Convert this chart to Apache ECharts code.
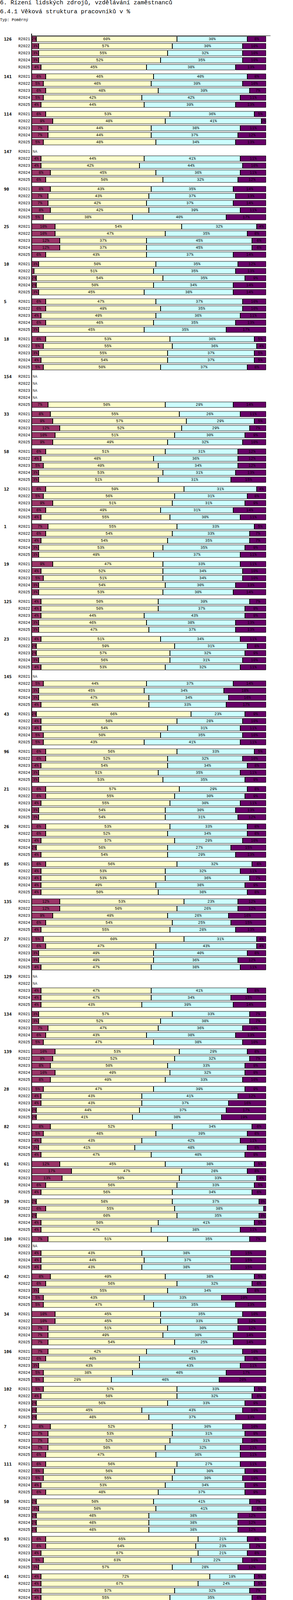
<!DOCTYPE html>
<html>
<head>
<meta charset="utf-8">
<script src="https://cdn.jsdelivr.net/npm/echarts@6/dist/echarts.min.js"></script>
<style>
html,body{margin:0;padding:0;background:#fff}
#chart{width:750px;height:7886px}
</style>
</head>
<body>
<div id="chart"></div>
<script>
// skupiny (pořadí shora dolů) a období
const groups = [126,141,114,147,90,25,10,5,18,154,33,58,12,1,19,125,23,145,43,96,21,26,85,135,27,129,134,139,28,82,
  61,39,100,42,34,106,102,7,111,50,93,41,153,115,122,2,130,51,6,140,101,86,52,136,131,74,3,138,113,132,
  8,14,16,152,15,53,89,56,13,146,9,118,60,112,67,144,121,88,75];
const periods = ['R2021','R2022','R2023','R2024','R2025'];
const seriesNames = [
  'Počet zaměstnanců ve věku do 30 let',
  'Počet zaměstnanců ve věku 31 - 50 let',
  'Počet zaměstnanců ve věku 51-60 let',
  'Počet zaměstnanců ve věku 61 let a výše'
];
const n = null; // NA

// hodnoty v %, jeden řádek = 5 skupin, každá skupina R2021..R2025
const age30 = [
  [2,3,3,3,4],[6,5,6,5,4],[6,9,7,7,5],[n,4,4,8,6],[8,7,7,8,5],
  [10,10,12,12,6],[3,1,2,2,3],[6,6,4,6,3],[6,5,3,4,5],[n,n,n,n,7],
  [8,9,12,10,9],[6,4,5,3,3],[6,5,9,6,4],[7,6,4,3,3],[9,4,5,3,3],
  [4,4,4,3,3],[4,2,2,3,4],[n,5,3,3,4],[2,4,4,5,5],[6,6,4,3,3],
  [6,6,4,3,3],[6,6,4,2,4],[6,4,4,4,4],[12,12,9,6,4],[5,6,3,3,4],
  [n,n,4,4,4],[3,3,7,6,5],[10,9,8,10,8],[5,4,4,2,2],[8,5,4,3,4],
  [12,17,13,6,4],[2,6,2,4,4],[7,n,4,4,4],[8,6,3,5,5],[10,10,7,7,7],
  [7,6,3,5,5],[5,4,2,2,2],[8,7,7,7,6],[6,5,5,4,6],[2,3,2,2,2],
  [6,6,4,5,3],[4,4,4,4,4],[n,n,3,3,3],[4,3,2,1,2],[8,9,6,5,7],
  [12,10,9,8,6],[8,8,8,8,8],[9,11,12,11,9],[6,6,5,4,4],[5,6,5,6,7],
  [4,5,3,4,2],[9,10,5,2,2],[n,n,n,2,2],[4,5,8,4,2],[8,7,7,6,8],
  [11,9,9,7,6],[8,9,8,5,6],[4,2,3,5,6],[5,6,5,4,5],[7,6,6,4,4],
  [4,4,4,5,4],[8,9,9,7,6],[4,3,5,7,6],[n,n,6,4,4],[4,2,3,4,6],
  [8,5,4,5,6],[4,4,5,4,3],[3,4,4,4,4],[6,7,4,6,5],[n,4,4,4,5],
  [8,6,8,6,5],[6,8,6,6,8],[8,8,11,13,16],[9,3,7,5,5],[2,2,n,n,7],
  [3,4,3,5,5],[9,9,7,6,1],[9,9,7,3,1],[1,1,1,1,0]
];
const age31_50 = [
  [60,57,55,52,45],[46,46,48,42,44],[53,48,44,44,48],[n,44,42,45,50],[43,43,42,42,38],
  [54,47,37,37,43],[50,51,54,50,45],[47,49,49,46,45],[53,55,55,54,50],[n,n,n,n,50],
  [55,57,52,51,49],[51,48,49,53,51],[59,56,51,49,55],[55,54,54,53,49],[47,52,51,54,53],
  [50,50,44,46,47],[51,59,57,56,53],[n,44,45,47,46],[66,58,54,50,43],[56,52,54,51,53],
  [57,55,55,54,54],[53,52,57,56,54],[56,53,53,49,50],[53,50,49,54,55],[60,47,49,49,47],
  [n,n,47,47,43],[57,52,47,43,47],[53,52,50,49,49],[47,43,43,44,41],[52,48,43,41,47],
  [45,47,50,56,56],[58,55,60,50,47],[51,n,43,44,43],[49,56,55,43,47],[45,45,51,49,54],
  [42,40,43,38,29],[57,58,56,45,48],[52,53,52,50,47],[56,56,55,53,48],[50,50,48,48,48],
  [65,64,67,63,57],[72,67,57,55,56],[n,n,45,45,44],[51,52,52,52,53],[50,54,51,50,60],
  [49,51,51,51,49],[44,44,43,44,44],[46,46,44,44,46],[54,51,50,49,46],[61,58,58,51,49],
  [59,54,55,55,54],[52,52,53,56,56],[n,n,n,55,47],[58,56,47,49,50],[55,48,54,52,44],
  [55,56,53,54,53],[51,47,45,45,42],[32,30,32,31,31],[51,49,48,46,42],[57,56,54,55,54],
  [50,52,51,50,49],[51,50,49,47,46],[48,49,45,44,43],[n,n,52,52,52],[58,59,55,54,52],
  [44,50,49,46,42],[59,56,56,55,58],[53,48,46,39,45],[51,56,56,40,43],[n,50,50,47,45],
  [50,48,46,44,40],[41,44,39,37,40],[52,52,67,53,54],[53,59,57,56,56],[55,48,n,n,45],
  [57,56,59,53,51],[59,53,56,48,51],[49,44,43,43,38],[51,47,51,42,41]
];
const age51_60 = [
  [30,30,32,35,38],[40,39,39,42,39],[36,41,38,37,34],[n,41,44,36,32],[35,37,37,39,40],
  [32,35,45,45,37],[35,35,35,34,38],[37,35,36,35,35],[36,36,37,37,37],[n,n,n,n,29],
  [26,29,29,30,32],[31,36,34,31,31],[31,31,31,31,30],[33,33,35,35,37],[33,34,34,30,30],
  [39,37,43,38,37],[34,31,32,31,32],[n,37,34,34,33],[23,28,31,35,41],[33,32,34,35,35],
  [29,30,30,30,31],[33,34,29,27,29],[32,32,36,38,38],[23,26,26,25,28],[31,43,40,36,38],
  [n,n,41,34,39],[33,38,36,38,38],[29,32,33,32,33],[39,41,37,37,38],[34,39,42,48,40],
  [38,28,33,33,34],[37,38,35,41,38],[35,n,38,37,38],[38,32,34,33,35],[35,33,30,30,25],
  [41,45,43,40,46],[33,32,33,43,37],[30,31,31,32,36],[27,30,30,34,37],[41,41,38,38,38],
  [21,23,21,22,28],[19,24,32,35,32],[n,n,35,35,37],[36,35,34,33,32],[27,23,25,25,14],
  [32,31,32,31,32],[33,32,33,31,31],[26,29,29,33,35],[33,35,36,38,38],[26,29,30,36,34],
  [31,32,32,29,29],[37,33,36,34,31],[n,n,n,28,35],[28,29,37,34,34],[28,31,27,30,34],
  [28,29,32,33,33],[35,36,39,39,39],[44,46,38,33,35],[36,40,42,40,40],[31,33,35,34,35],
  [38,35,34,34,34],[33,33,33,37,38],[39,38,37,38,38],[n,n,31,33,30],[28,30,30,32,34],
  [39,37,36,38,36],[33,35,35,36,34],[38,42,41,46,41],[35,28,31,38,38],[n,36,35,36,33],
  [35,39,37,41,44],[42,39,42,39,33],[27,27,15,23,21],[26,31,27,27,28],[36,40,n,n,43],
  [35,37,35,37,37],[27,33,33,41,44],[35,39,37,36,44],[43,46,44,50,51]
];
const age61 = [
  [8,10,10,10,13],[8,10,7,11,13],[5,2,11,12,13],[n,11,10,11,12],[14,13,14,11,17],
  [4,8,6,6,14],[12,13,9,14,14],[10,10,11,13,17],[5,4,5,5,8],[n,n,n,n,14],
  [11,5,7,9,10],[12,12,12,13,15],[4,8,9,14,11],[5,7,7,9,11],[11,10,10,13,14],
  [7,9,9,13,13],[11,8,9,10,11],[n,14,18,16,17],[9,10,11,10,11],[5,10,8,11,9],
  [8,9,11,13,12],[8,8,10,15,13],[6,11,7,9,8],[12,12,16,15,13],[4,4,8,12,11],
  [n,n,8,15,14],[7,7,10,13,10],[8,7,9,9,10],[9,12,16,17,19],[6,8,11,8,9],
  [5,8,4,5,6],[3,1,3,5,11],[7,n,15,15,15],[5,6,8,19,13],[10,12,12,14,14],
  [10,9,11,17,20],[5,6,9,10,13],[10,9,10,11,11],[11,9,10,9,9],[7,6,12,12,12],
  [8,7,8,10,12],[5,5,7,6,8],[n,n,17,17,16],[9,10,12,14,13],[15,14,18,20,19],
  [7,8,8,10,13],[15,16,16,17,17],[19,14,15,12,10],[7,8,9,9,12],[8,7,7,7,10],
  [6,9,10,12,15],[2,5,6,8,11],[n,n,n,15,16],[10,10,8,13,14],[9,14,12,12,14],
  [6,6,6,6,8],[6,8,8,11,13],[20,22,27,31,28],[8,5,5,10,13],[5,5,5,7,7],
  [8,9,11,11,13],[8,8,9,9,10],[9,10,13,11,13],[n,n,11,11,14],[10,9,12,10,8],
  [9,8,11,11,16],[4,5,4,5,5],[6,6,9,11,10],[8,9,9,16,14],[n,10,11,13,17],
  [7,7,9,9,11],[11,9,13,18,19],[13,13,7,11,9],[12,7,9,12,11],[7,10,n,n,5],
  [5,3,3,5,7],[5,5,4,5,4],[7,8,13,18,17],[5,6,4,7,8]
];

const colors = ['#993366','#FFFFCC','#CCFFFF','#660066'];
const noteColors = ['#9467bd','#d62728','#2ca02c','#ff7f0e','#1f77b4'];
const MONO = '"Liberation Mono", "DejaVu Sans Mono", monospace';

// každá skupina = 16 řádků po 6 px (5 sloupců po 3 řádcích + mezera)
const SLOTS = 16;
const cats = [];
for (let i = 0; i < groups.length * SLOTS; i++) cats.push(String(i));

function toSlots(arr) {
  const out = cats.map(() => '-');
  arr.forEach((g, gi) => g.forEach((v, k) => {
    if (v != null) out[gi * SLOTS + 3 * k + 1] = v;
  }));
  return out;
}
const naPoints = [];
age30.forEach((g, gi) => g.forEach((v, k) => {
  if (v == null) naPoints.push([0, gi * SLOTS + 3 * k + 1]);
}));

// svg: canvas by byl na výšku moc velký
const chart = echarts.init(document.getElementById('chart'), null, { renderer: 'svg' });

const barSeries = [age30, age31_50, age51_60, age61].map((arr, i) => ({
  name: seriesNames[i],
  type: 'bar',
  stack: 'all',
  barWidth: 15,
  data: toSlots(arr),
  itemStyle: { color: colors[i], borderColor: '#000', borderWidth: 1 },
  label: {
    show: true,
    position: 'inside',
    formatter: p => (p.value >= 2 ? p.value + '%' : ''),
    color: '#000',
    textBorderWidth: 0,
    fontFamily: MONO,
    fontSize: 10
  }
}));

const notes = periods.map((p, i) => ({
  type: 'text',
  left: i % 2 === 0 ? 80 : 383,
  top: 7782 + Math.floor(i / 2) * 20,
  style: {
    text: 'Období[' + p + ']: Realita - ' + p.slice(1),
    fill: noteColors[i],
    font: '10px ' + MONO
  }
}));

chart.setOption({
  animation: false,
  backgroundColor: '#fff',
  grid: { left: 81, right: 58, top: 91, height: groups.length * SLOTS * 6 },
  xAxis: {
    type: 'value',
    position: 'top',
    min: 0,
    max: 101.83,
    axisLine: { show: true, lineStyle: { color: '#000', width: 1 } },
    axisTick: { show: false },
    axisLabel: { show: false },
    splitLine: { show: false }
  },
  yAxis: {
    type: 'category',
    inverse: true,
    data: cats,
    axisLine: { show: true, lineStyle: { color: '#000', width: 2 } },
    axisTick: { show: false },
    axisLabel: {
      interval: 0,
      margin: 4,
      formatter: (v, idx) => {
        const slot = idx % SLOTS;
        if (slot % 3 !== 1 || slot > 13) return '';
        const k = (slot - 1) / 3;
        const gi = Math.floor(idx / SLOTS);
        return k === 0 ? '{g|' + groups[gi] + '}{p|' + periods[k] + '}' : '{p|' + periods[k] + '}';
      },
      rich: {
        g: { width: 37, align: 'left', fontFamily: '"DejaVu Sans Mono", monospace', fontWeight: 'bold', fontSize: 11, color: '#000' },
        p: { width: 30, align: 'right', fontFamily: MONO, fontSize: 10, color: '#000' }
      }
    }
  },
  legend: {
    data: seriesNames,
    orient: 'vertical',
    left: 46,
    top: 7697,
    icon: 'rect',
    itemWidth: 8,
    itemHeight: 8,
    itemGap: 8,
    textStyle: { fontFamily: MONO, fontSize: 10, lineHeight: 12, color: '#000' }
  },
  graphic: [
    { type: 'text', left: 0, top: 0, style: { text: '6. Řízení lidských zdrojů, vzdělávání zaměstnanců', fill: '#000', font: '15px ' + MONO } },
    { type: 'text', left: 0, top: 23, style: { text: '6.4.1 Věková struktura pracovníků v %', fill: '#000', font: '15px ' + MONO } },
    { type: 'text', left: 0, top: 46, style: { text: 'Typ: Poměrný', fill: '#000', font: '10px ' + MONO } },
    { type: 'rect', left: 80, top: 86, shape: { width: 2, height: 6 }, style: { fill: '#000' } }
  ].concat(notes),
  series: barSeries.concat([{
    type: 'scatter',
    data: naPoints,
    symbol: 'rect',
    symbolSize: 1,
    itemStyle: { color: 'rgba(0,0,0,0)' },
    label: {
      show: true,
      position: 'right',
      distance: 2,
      formatter: 'NA',
      color: '#000',
      fontFamily: MONO,
      fontSize: 10
    },
    silent: true
  }])
});
</script>
</body>
</html>
